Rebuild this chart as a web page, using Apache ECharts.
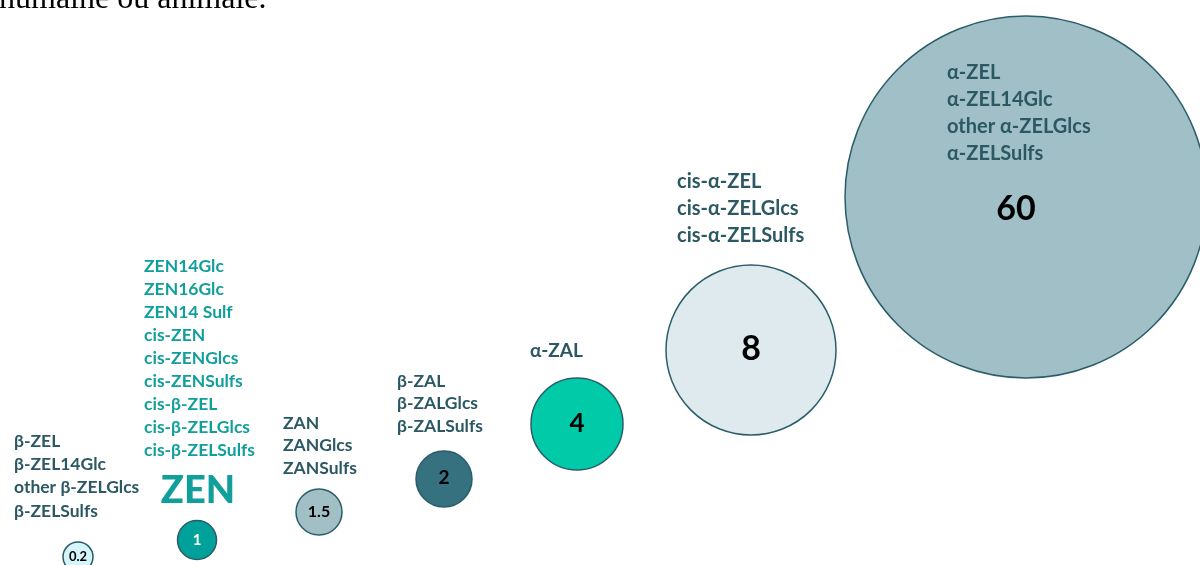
<!DOCTYPE html>
<html>
<head>
<meta charset="utf-8">
<script src="https://cdn.jsdelivr.net/npm/echarts@6/dist/echarts.min.js"></script>
<style>
html,body{margin:0;padding:0;background:#fff;}
#chart{width:1200px;height:565px;}
</style>
</head>
<body>
<div id="chart"></div>
<script>
// ---------- DATA ----------
const potencyFactors = [0.2, 1, 1.5, 2, 4, 8, 60];
const valueLabels = ['0.2', '1', '1.5', '2', '4', '8', '60'];
const metaboliteGroups = [
  ['β-ZEL', 'β-ZEL14Glc', 'other β-ZELGlcs', 'β-ZELSulfs'],
  ['ZEN14Glc', 'ZEN16Glc', 'ZEN14 Sulf', 'cis-ZEN', 'cis-ZENGlcs', 'cis-ZENSulfs', 'cis-β-ZEL', 'cis-β-ZELGlcs', 'cis-β-ZELSulfs'],
  ['ZAN', 'ZANGlcs', 'ZANSulfs'],
  ['β-ZAL', 'β-ZALGlcs', 'β-ZALSulfs'],
  ['α-ZAL'],
  ['cis-α-ZEL', 'cis-α-ZELGlcs', 'cis-α-ZELSulfs'],
  ['α-ZEL', 'α-ZEL14Glc', 'other α-ZELGlcs', 'α-ZELSulfs']
];
const referenceCompound = 'ZEN';
const headerText = 'humaine ou animale.';

// ---------- LAYOUT / STYLE (diagram positions in axis units) ----------
const bubbleCenters = [[78, 557], [197, 540], [319, 512], [444, 479], [577, 424], [751, 350], [1026, 197]];
const bubbleDiameters = [30, 39, 46, 56, 92, 170, 362];
const bubbleFills = ['#d5f5fa', '#00a19b', '#a2bfc6', '#35717f', '#00caa8', '#deeaed', '#a0bfc6'];
const numberColors = ['#000', '#fff', '#000', '#000', '#000', '#000', '#000'];
const numberSizes = [13, 15, 16, 19, 26, 34, 34];
const numberOffsets = [[0, 0], [0, 0], [0, 0], [0, -1], [0, 0], [0, -1], [-10, 12]];
// left x, first line centre y, font size, line height, colour
const groupAnchors = [
  [14, 441, 17.5, 23.3, '#2b5863'],
  [144, 266, 17.5, 23, '#119f9c'],
  [283, 423, 17.5, 22.5, '#2b5863'],
  [397, 381, 17.5, 22.8, '#2b5863'],
  [530, 351, 19, 24, '#2b5863'],
  [677, 182, 20, 26.6, '#2b5863'],
  [947, 73, 20, 26.7, '#2b5863']
];
const referenceAnchor = [198, 491];

const FONT = 'Lato, "Open Sans", sans-serif';

const bubbleData = potencyFactors.map((v, i) => ({
  value: [bubbleCenters[i][0], bubbleCenters[i][1], v],
  itemStyle: { color: bubbleFills[i] },
  label: {
    color: numberColors[i],
    fontSize: numberSizes[i],
    offset: numberOffsets[i]
  }
}));

const groupData = metaboliteGroups.map((lines, i) => {
  const a = groupAnchors[i];
  return {
    value: [a[0], a[1] - a[3] / 2],
    label: {
      formatter: lines.join('\n'),
      fontSize: a[2],
      lineHeight: a[3],
      color: a[4]
    }
  };
});

const chart = echarts.init(document.getElementById('chart'), null, { renderer: 'canvas' });
chart.setOption({
  animation: false,
  backgroundColor: '#ffffff',
  grid: { left: 0, right: 0, top: 0, bottom: 0 },
  xAxis: { type: 'value', min: 0, max: 1200, show: false },
  yAxis: { type: 'value', min: 0, max: 565, inverse: true, show: false },
  graphic: [{
    type: 'text',
    x: -1,
    y: 16,
    z: 100,
    style: {
      text: headerText,
      font: '32px "Liberation Serif", "Times New Roman", serif',
      fill: '#000',
      verticalAlign: 'bottom',
      align: 'left'
    }
  }],
  series: [
    {
      type: 'scatter',
      clip: false,
      symbol: 'circle',
      symbolSize: (val, p) => bubbleDiameters[p.dataIndex],
      itemStyle: { borderColor: '#2a5d69', borderWidth: 1.5, opacity: 1 },
      label: {
        show: true,
        position: 'inside',
        fontFamily: FONT,
        fontWeight: 'bold',
        opacity: 1,
        formatter: p => valueLabels[p.dataIndex]
      },
      data: bubbleData,
      z: 2
    },
    {
      type: 'scatter',
      clip: false,
      symbolSize: 0,
      itemStyle: { opacity: 1 },
      label: {
        show: true,
        position: [0, 0],
        align: 'left',
        verticalAlign: 'top',
        fontFamily: FONT,
        fontWeight: 'bold',
        opacity: 1
      },
      data: groupData,
      z: 3
    },
    {
      type: 'scatter',
      clip: false,
      symbolSize: 0,
      itemStyle: { opacity: 1 },
      label: {
        show: true,
        position: [0, 0],
        align: 'center',
        verticalAlign: 'middle',
        fontFamily: FONT,
        fontWeight: 900,
        fontSize: 38,
        opacity: 1,
        color: '#119f9c',
        formatter: referenceCompound
      },
      data: [referenceAnchor],
      z: 3
    }
  ]
});
</script>
</body>
</html>
